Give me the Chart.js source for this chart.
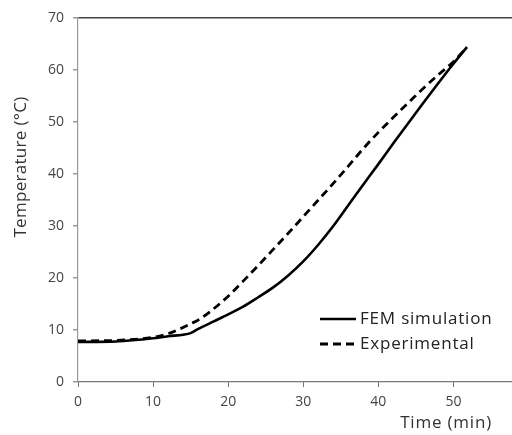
<!DOCTYPE html>
<html>
<head>
<meta charset="utf-8">
<script src="https://cdn.jsdelivr.net/npm/chart.js@4"></script>
<style>
html,body{margin:0;padding:0;background:#fff;}
#wrap{width:512px;height:435px;position:relative;}
</style>
</head>
<body>
<div id="wrap"><canvas id="c" width="512" height="435"></canvas></div>
<script>
const times = [0, 5, 10, 12, 14, 15, 16, 18, 20, 22, 24, 26, 28, 30, 32, 34, 36, 38, 40, 42, 44, 46, 48, 50, 51.8];
const femSimulation = [7.7, 7.8, 8.4, 8.8, 9.1, 9.4, 10.2, 11.6, 13.0, 14.5, 16.3, 18.2, 20.5, 23.2, 26.4, 30.0, 34.0, 38.0, 41.9, 45.9, 49.8, 53.7, 57.5, 61.2, 64.4];
const experimental = [7.9, 8.0, 8.6, 9.3, 10.5, 11.2, 11.9, 14.0, 16.5, 19.4, 22.4, 25.5, 28.6, 31.8, 35.0, 38.2, 41.5, 44.9, 48.0, 50.9, 53.7, 56.5, 59.1, 61.6, 64.4];
const seriesNames = ['FEM simulation', 'Experimental'];
const xTicks = [0, 10, 20, 30, 40, 50];
const yTicks = [0, 10, 20, 30, 40, 50, 60, 70];
const xTitle = 'Time (min)';
const yTitle = 'Temperature (°C)';

const FONT = "'Open Sans', 'Liberation Sans', sans-serif";

const toPts = (arr) => arr.map((v, i) => ({x: times[i], y: v}));

const extras = {
  id: 'extras',
  afterDraw(chart) {
    const ctx = chart.ctx;
    const area = chart.chartArea;
    ctx.save();
    ctx.fillStyle = '#333';
    ctx.textBaseline = 'middle';
    // y-axis title
    ctx.save();
    ctx.font = "17px " + FONT;
    ctx.letterSpacing = '0.3px';
    ctx.translate(21, 167);
    ctx.rotate(-Math.PI / 2);
    ctx.textAlign = 'center';
    ctx.fillText(yTitle, 0, 0);
    ctx.restore();
    // x-axis title (right aligned, below tick labels)
    ctx.font = "17px " + FONT;
    ctx.letterSpacing = '0.8px';
    ctx.textAlign = 'right';
    ctx.fillText(xTitle, area.right - 20, 423);
    // legend
    const items = chart.data.datasets;
    const lx0 = 320, lx1 = 356, ly0 = 319, gap = 25;
    items.forEach((ds, i) => {
      const y = ly0 + i * gap;
      ctx.beginPath();
      ctx.strokeStyle = ds.borderColor;
      ctx.lineWidth = ds.borderWidth;
      ctx.setLineDash(ds.borderDash || []);
      ctx.moveTo(lx0, y);
      ctx.lineTo(lx1, y);
      ctx.stroke();
      ctx.setLineDash([]);
      ctx.textAlign = 'left';
      ctx.fillStyle = '#222';
      ctx.fillText(ds.label, lx1 + 4, y);
    });
    ctx.restore();
  }
};

new Chart(document.getElementById('c'), {
  type: 'line',
  data: {
    datasets: [
      {
        label: seriesNames[0],
        data: toPts(femSimulation),
        borderColor: '#000',
        borderWidth: 2.6,
        pointRadius: 0,
        cubicInterpolationMode: 'monotone',
        fill: false
      },
      {
        label: seriesNames[1],
        data: toPts(experimental),
        borderColor: '#000',
        borderWidth: 2.8,
        borderDash: [8, 5],
        pointRadius: 0,
        cubicInterpolationMode: 'monotone',
        fill: false
      }
    ]
  },
  options: {
    responsive: false,
    animation: false,
    layout: {padding: {top: 18, right: 0, left: 0, bottom: 0}},
    plugins: {legend: {display: false}, tooltip: {enabled: false}},
    scales: {
      x: {
        type: 'linear',
        min: 0,
        max: 57.8,
        afterBuildTicks: (s) => { s.ticks = xTicks.map(v => ({value: v})); },
        afterFit: (s) => { s.height = 53; },
        ticks: {font: {size: 14, family: FONT}, color: '#444', padding: 7},
        grid: {drawOnChartArea: false, tickLength: 5, tickColor: '#777'},
        border: {color: '#777', width: 1.2}
      },
      y: {
        type: 'linear',
        min: 0,
        max: 70,
        afterBuildTicks: (s) => { s.ticks = yTicks.map(v => ({value: v})); },
        afterFit: (s) => { s.width = 78; },
        ticks: {font: {size: 14, family: FONT}, color: '#444', padding: 9},
        title: {display: false, text: yTitle},
        grid: {
          drawOnChartArea: true,
          tickLength: 5,
          tickColor: '#999',
          color: (c) => (c.tick && c.tick.value === 70) ? '#444' : 'rgba(0,0,0,0)',
          lineWidth: 1.5
        },
        border: {color: '#999', width: 1.2}
      }
    }
  },
  plugins: [extras]
});
</script>
</body>
</html>
